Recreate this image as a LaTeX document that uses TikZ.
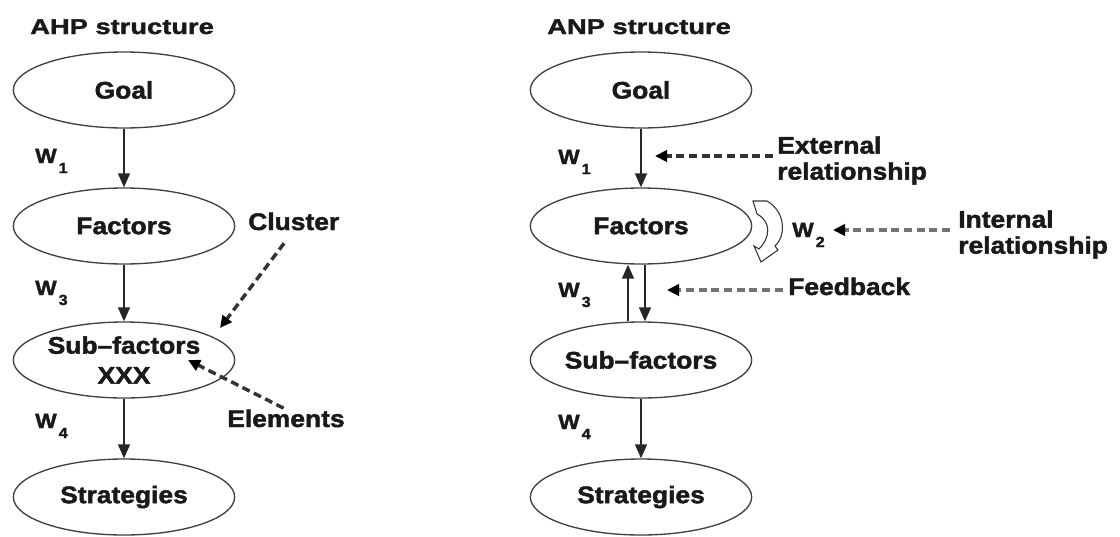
\documentclass[tikz,border=0pt]{standalone}
\usepackage{fontspec}
\usetikzlibrary{shapes.geometric}
\usetikzlibrary{arrows.meta}
\usetikzlibrary{calc}
\newfontfamily\lblfont{Liberation Sans}[FakeStretch=1.1, FakeBold=1.8]
\newfontfamily\ttlfont{Liberation Sans}[FakeStretch=1.28, FakeBold=1.8]
\newcommand{\wgt}[1]{W\kern1.5pt\raisebox{-7.5pt}{\fontsize{11}{11}\selectfont #1}}
\tikzset{level/.style={
		ellipse, draw=black!75, line width=1pt,
		minimum width=166pt, minimum height=57pt, inner sep=0pt,
		align=center, text=black!90,
		font=\lblfont\bfseries\fontsize{18}{22.5}\selectfont
}}
\tikzset{note/.style={
		inner sep=0pt, align=left, text=black!90,
		font=\lblfont\bfseries\fontsize{18}{19.5}\selectfont
}}
\tikzset{weight/.style={
		inner sep=0pt, anchor=base west, text=black!90,
		font=\lblfont\bfseries\fontsize{15.5}{15.5}\selectfont
}}
\tikzset{headline/.style={
		inner sep=0pt, anchor=base west, text=black!90,
		font=\ttlfont\bfseries\fontsize{16}{16}\selectfont
}}
\tikzset{link/.style={
		-{Triangle[length=10.5pt,width=9pt]}, line width=1.1pt, black!85
}}
\tikzset{dashlink/.style={
		-{Triangle[length=9pt,width=8.5pt,black]}, line width=2.6pt,
		dash pattern=on 6pt off 3.5pt, black!80
}}

\begin{document}
\begin{tikzpicture}[x=0.75pt,y=-0.75pt]
  \useasboundingbox (0,0) rectangle (1120,536);

  \node[headline] (ahp) at (30,34) {AHP structure};
  \node[headline] (anp) at (547,34) {ANP structure};

  \node[level] (goalL) at (124,90) {Goal};
  \node[level] (factL) at (124,226) {Factors};
  \node[level] (subL) at (124,360) {Sub–factors\\XXX};
  \node[level] (stratL) at (124,497) {Strategies};

  \node[level] (goalR) at (641,90) {Goal};
  \node[level] (factR) at (641,226) {Factors};
  \node[level] (subR) at (641,360) {Sub–factors};
  \node[level] (stratR) at (641,497) {Strategies};

  \node[weight] (w1L) at (35,163) {\wgt{1}};
  \node[weight] (w3L) at (35,295) {\wgt{3}};
  \node[weight] (w4L) at (35,428) {\wgt{4}};
  \node[weight] (w1R) at (558,164) {\wgt{1}};
  \node[weight] (w3R) at (558,297) {\wgt{3}};
  \node[weight] (w4R) at (558,429) {\wgt{4}};
  \node[weight] (w2R) at (792,237) {\wgt{2}};

  \node[note, anchor=base west] (cluster) at (248,230) {Cluster};
  \node[note, anchor=base west] (elements) at (227,427) {Elements};
  \node[note, anchor=north west] (extLbl) at (777,136) {External\\relationship};
  \node[note, anchor=north west] (intLbl) at (958,210) {Internal\\relationship};
  \node[note, anchor=base west] (fbLbl) at (788,295) {Feedback};

  \coordinate (clTip) at (220,328);
  \coordinate (elTip) at (188,360);
  \coordinate (extTip) at (655,156);
  \coordinate (intTip) at (833,230);
  \coordinate (fbTip) at (667,290);

  \draw[link] (goalL) -- (factL);
  \draw[link] (factL) -- (subL);
  \draw[link] (subL) -- (stratL);

  \draw[link] (goalR) -- (factR);
  \draw[link] ($(subR.north)+(-13,0)$) -- ($(factR.south)+(-13,0)$);
  \draw[link] ($(factR.south)+(4,0)$) -- ($(subR.north)+(4,0)$);
  \draw[link] (subR) -- (stratR);

  \draw[fill=white, draw=black!80, line width=0.8pt] (753,201) -- (767,201)
    .. controls (786,212) and (786,236) .. (775,246) -- (778,250) -- (761,262)
    -- (754,246) -- (759,249) .. controls (770,238) and (772,222) .. (757,214) -- cycle;

  \draw[dashlink, shorten <=12pt] (cluster.south) -- (clTip);
  \draw[dashlink, shorten <=2pt] (elements.north) -- (elTip);
  \draw[dashlink, shorten <=3pt] (extLbl.west |- extTip) -- (extTip);
  \draw[dashlink, black!55, shorten <=6pt] (intLbl.west |- intTip) -- (intTip);
  \draw[dashlink, black!55, shorten <=4pt] (fbLbl.west |- fbTip) -- (fbTip);
\end{tikzpicture}
\end{document}
